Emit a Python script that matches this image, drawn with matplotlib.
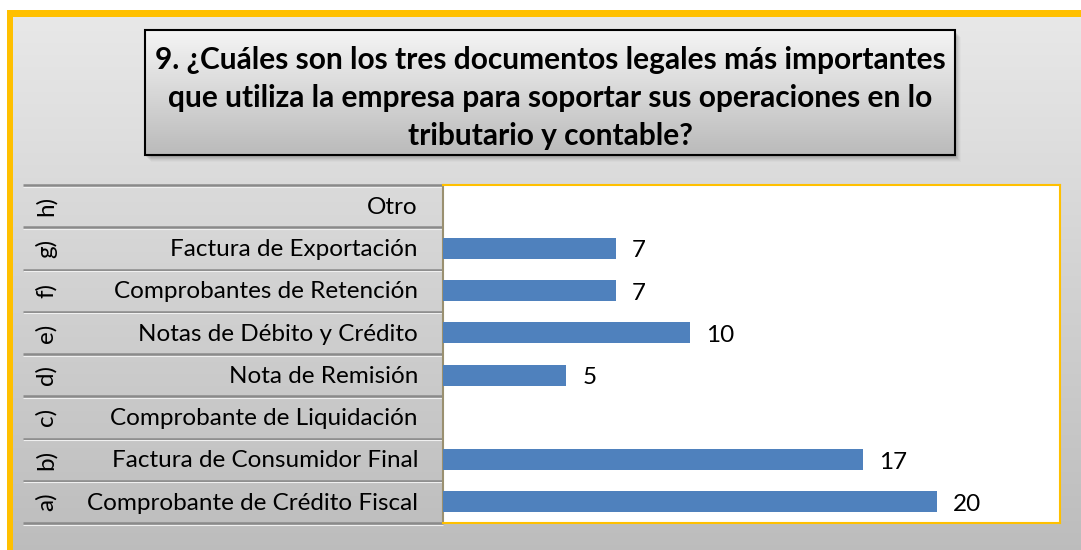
import numpy as np
import matplotlib.pyplot as plt
from matplotlib.patches import Rectangle
from matplotlib.transforms import blended_transform_factory

plt.rcParams['font.family'] = ['Lato', 'DejaVu Sans']

# data (bottom to top)
letters = ['a)', 'b)', 'c)', 'd)', 'e)', 'f)', 'g)', 'h)']
categories = ['Comprobante de Crédito Fiscal', 'Factura de Consumidor Final',
              'Comprobante de Liquidación', 'Nota de Remisión',
              'Notas de Débito y Crédito', 'Comprobantes de Retención',
              'Factura de Exportación', 'Otro']
values = [20, 17, 0, 5, 10, 7, 7, 0]
title = ('9. ¿Cuáles son los tres documentos legales más importantes\n'
         'que utiliza la empresa para soportar sus operaciones en lo\n'
         'tributario y contable?')

W, H = 1081, 550
fig = plt.figure(figsize=(W / 100, H / 100), dpi=100)
fig.patch.set_facecolor('white')

# background layer in pixel coordinates
bg = fig.add_axes([0, 0, 1, 1])
bg.set_xlim(0, W)
bg.set_ylim(H, 0)
bg.axis('off')

grad = np.linspace(0, 1, 256).reshape(-1, 1)
gray_bg = np.dstack([0.91 - 0.17 * grad] * 3)
bg.imshow(gray_bg, extent=(13, W, H, 17), aspect='auto', zorder=0)
# yellow frame
bg.add_patch(Rectangle((7, 10), 6, H - 10, color='#FFC000', lw=0, zorder=1))
bg.add_patch(Rectangle((7, 10), W - 7, 7, color='#FFC000', lw=0, zorder=1))

# title box with soft shadow
bx0, by0, bx1, by1 = 145, 30, 955, 155
for i, a in enumerate([0.07, 0.06, 0.05, 0.04, 0.03, 0.02]):
    bg.add_patch(Rectangle((bx0 + 1 + i, by0 + 2 + i), bx1 - bx0, by1 - by0,
                           color='black', alpha=a, lw=0, zorder=2))
box_grad = np.dstack([0.96 - 0.23 * grad] * 3)
bg.imshow(box_grad, extent=(bx0, bx1, by1, by0), aspect='auto', zorder=3)
bg.add_patch(Rectangle((bx0, by0), bx1 - bx0, by1 - by0, fill=False,
                       ec='black', lw=1.5, zorder=4))
bg.text((bx0 + bx1) / 2, 98, title, ha='center', va='center',
        fontsize=21.5, fontweight='bold', linespacing=1.42, zorder=5)
bg.set_xlim(0, W)
bg.set_ylim(H, 0)

# main chart
ax = fig.add_axes([443 / W, 1 - 523 / H, 617 / W, 338 / H])
ax.set_facecolor('white')
y = np.arange(len(categories))
ax.barh(y, values, height=0.5, color='#4F81BD', zorder=3)
for yi, v in zip(y, values):
    if v > 0:
        ax.text(v + 0.65, yi - 0.06, str(v), va='center', ha='left',
                fontsize=17.5)
ax.set_xlim(0, 25)
ax.set_ylim(-0.5, len(categories) - 0.5)
ax.set_xticks([])
ax.set_yticks([])
for s in ax.spines.values():
    s.set_color('#FFC000')
    s.set_linewidth(1.5)
ax.spines['left'].set_color('#9a9070')

# category table to the left of the plot area
tr = blended_transform_factory(fig.transFigure, ax.transData)
for yi, (lt, cat) in enumerate(zip(letters, categories)):
    ax.text(418 / W, yi - 0.03, cat, transform=tr, ha='right', va='center',
            fontsize=17.5, clip_on=False)
    ax.text(46 / W, yi, lt, transform=tr, ha='center', va='center',
            fontsize=17.5, rotation=90, clip_on=False)
for b in np.arange(-0.5, len(categories), 1.0):
    ax.plot([23 / W, 443 / W], [b, b], transform=tr, color='#8a8a8a',
            lw=1.8, clip_on=False, solid_capstyle='butt')
    ax.plot([23 / W, 443 / W], [b - 0.04, b - 0.04], transform=tr,
            color='#f0f0f0', lw=0.8, clip_on=False, solid_capstyle='butt')

fig.savefig('out.png', dpi=100)
